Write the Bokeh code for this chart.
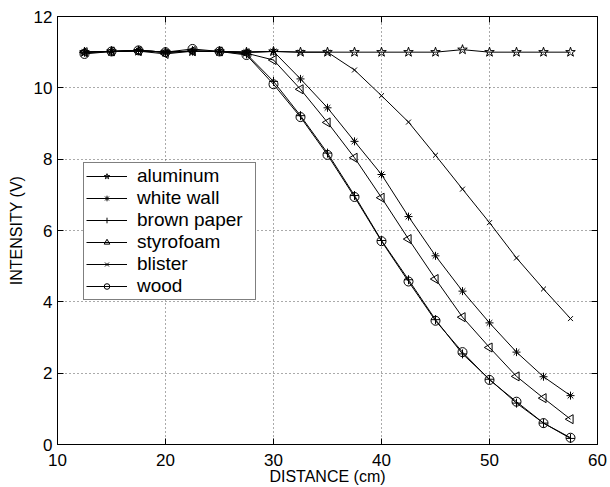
import numpy as np
from bokeh.plotting import figure
from bokeh.models import Range1d, FixedTicker, LinearAxis, Legend
from bokeh.embed import file_html
from bokeh.resources import INLINE

distance = [12.5, 15, 17.5, 20, 22.5, 25, 27.5, 30, 32.5, 35, 37.5, 40,
            42.5, 45, 47.5, 50, 52.5, 55, 57.5]
aluminum = [11.0, 11.02, 11.03, 11.0, 11.02, 11.02, 11.0, 11.02, 11.0, 11.0,
            11.0, 11.0, 11.0, 11.0, 11.07, 11.0, 11.0, 11.0, 11.0]
white_wall = [11.0, 11.02, 11.05, 11.0, 11.03, 11.02, 11.0, 11.02, 10.25, 9.44,
              8.5, 7.57, 6.39, 5.29, 4.30, 3.41, 2.59, 1.90, 1.37]
brown_paper = [11.0, 11.02, 11.05, 11.0, 11.03, 11.02, 10.95, 10.18, 9.22, 8.17,
               6.98, 5.72, 4.62, 3.50, 2.54, 1.83, 1.16, 0.60, 0.17]
styrofoam = [11.0, 11.02, 11.03, 10.95, 11.03, 11.02, 10.97, 10.78, 9.96, 9.03,
             8.04, 6.92, 5.76, 4.64, 3.57, 2.72, 1.91, 1.30, 0.71]
blister = [11.0, 11.02, 11.05, 11.0, 11.03, 11.02, 11.0, 11.02, 11.0, 11.0,
           10.50, 9.78, 9.04, 8.11, 7.16, 6.22, 5.23, 4.36, 3.53]
wood = [10.95, 11.02, 11.05, 11.0, 11.09, 11.02, 10.92, 10.10, 9.18, 8.12,
        6.94, 5.70, 4.57, 3.47, 2.59, 1.81, 1.20, 0.60, 0.19]

x_ticks = [10, 20, 30, 40, 50, 60]
y_ticks = [0, 2, 4, 6, 8, 10, 12]

FONT = "Liberation Sans"

p = figure(width=610, height=487, output_backend="svg", toolbar_location=None,
           x_range=Range1d(10, 60), y_range=Range1d(0, 12),
           min_border_left=57, min_border_right=13, min_border_top=16,
           min_border_bottom=43)
p.background_fill_color = "white"
p.border_fill_color = "white"
p.outline_line_color = "black"
p.outline_line_width = 1
p.outline_line_alpha = 1

for ax in [p.xaxis[0], p.yaxis[0]]:
    ax.major_tick_in = 6
    ax.major_tick_out = 0
    ax.minor_tick_line_color = None
    ax.axis_line_color = "black"
    ax.major_tick_line_color = "black"
    ax.major_label_text_font = FONT
    ax.major_label_text_font_size = "17px"
    ax.major_label_text_color = "black"
    ax.axis_label_text_font = FONT
    ax.axis_label_text_font_size = "16px"
    ax.axis_label_text_font_style = "normal"
    ax.axis_label_text_color = "black"

p.xaxis[0].ticker = FixedTicker(ticks=x_ticks)
p.yaxis[0].ticker = FixedTicker(ticks=y_ticks)
p.xaxis[0].axis_label = "DISTANCE (cm)"
p.yaxis[0].axis_label = "INTENSITY (V)"
p.xaxis[0].major_label_standoff = 9
p.xaxis[0].axis_label_standoff = -1
p.yaxis[0].major_label_standoff = 5
p.yaxis[0].axis_label_standoff = 6

top_ax = LinearAxis(ticker=FixedTicker(ticks=x_ticks))
right_ax = LinearAxis(ticker=FixedTicker(ticks=y_ticks))
for ax in [top_ax, right_ax]:
    ax.major_tick_in = 6
    ax.major_tick_out = 0
    ax.minor_tick_line_color = None
    ax.axis_line_color = None
    ax.major_tick_line_color = "black"
    ax.major_label_text_font_size = "8px"
    ax.major_label_text_color = None
    ax.major_label_standoff = 0
p.add_layout(top_ax, "above")
p.add_layout(right_ax, "right")

p.xgrid.ticker = FixedTicker(ticks=x_ticks)
p.ygrid.ticker = FixedTicker(ticks=y_ticks)
for g in [p.xgrid[0], p.ygrid[0]]:
    g.grid_line_color = "#555555"
    g.grid_line_dash = "1 3"
    g.grid_line_width = 1

series = [
    ("aluminum", aluminum, "star", 0.0, 10),
    ("white wall", white_wall, "asterisk", 0.0, 8),
    ("brown paper", brown_paper, "cross", 0.0, 9),
    ("styrofoam", styrofoam, "triangle", np.pi / 2, 9),
    ("blister", blister, "x", 0.0, 7),
    ("wood", wood, "circle", 0.0, 9),
]

items = []
for name, ys, marker, ang, size in series:
    r1 = p.line(distance, ys, line_color="black", line_width=1)
    r2 = p.scatter(distance, ys, marker=marker, size=size, angle=ang,
                   line_color="black", fill_color=None, line_width=1)
    items.append((name, [r1, r2]))

legend = Legend(items=items, location=(26, 144))
legend.label_text_font = FONT
legend.label_text_font_size = "19px"
legend.label_text_color = "black"
legend.label_height = 22
legend.glyph_height = 14
legend.glyph_width = 41
legend.label_width = 116
legend.spacing = 0
legend.padding = 2
legend.margin = 0
legend.label_standoff = 10
legend.border_line_color = "black"
legend.border_line_width = 1.5
legend.background_fill_color = "white"
legend.background_fill_alpha = 1
p.add_layout(legend, "center")

open("out.html", "w").write(file_html(p, INLINE))
